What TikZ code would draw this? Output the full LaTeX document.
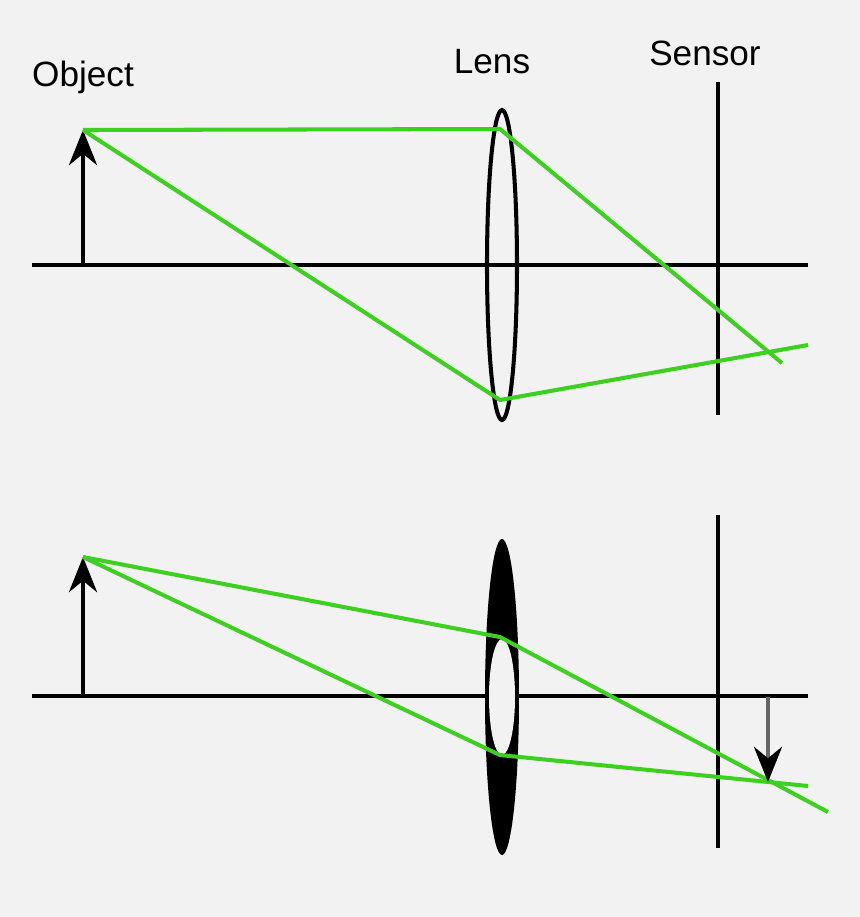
\documentclass[tikz,border=0pt]{standalone}
\usepackage{fontspec}
\setmainfont{Liberation Sans}
\usetikzlibrary{arrows.meta}
\definecolor{raygreen}{RGB}{62,208,32}
\definecolor{bggray}{RGB}{242,242,242}
\begin{document}
\begin{tikzpicture}[
    x=0.01cm, y=-0.01cm,
    axis/.style={line width=1.15pt, black},
    ray/.style={line width=1.15pt, raygreen},
    objarrow/.style={line width=1.15pt, -{Stealth[length=10pt,width=8pt]}},
    label/.style={font=\fontsize{10}{12}\selectfont, inner sep=0pt}
]
\fill[bggray] (0,0) rectangle (860,917);

% top panel
\coordinate (ta) at (32,265);
\coordinate (tb) at (808,265);
\draw[axis] (ta) -- (tb);
\coordinate (tobase) at (83,265);
\coordinate (totip) at (83,130);
\draw[objarrow] (tobase) -- (totip);
\draw[axis] (502,265) ellipse [x radius=15, y radius=155];
\coordinate (tstop) at (718,82);
\coordinate (tsbot) at (718,415);
\draw[axis] (tstop) -- (tsbot);
\node[label] (object) at (83,77) {Object};
\node[label] (lens) at (492,62) {Lens};
\node[label] (sensor) at (705,53) {Sensor};
\coordinate (tl1) at (500,129);
\coordinate (tl2) at (500,400);
\coordinate (te1) at (782,363);
\coordinate (te2) at (808,345);
\draw[ray] (totip) -- (tl1) -- (te1);
\draw[ray] (totip) -- (tl2) -- (te2);

% bottom panel
\coordinate (ba) at (32,696);
\coordinate (bb) at (808,696);
\draw[axis] (ba) -- (bb);
\coordinate (bobase) at (83,696);
\coordinate (botip) at (83,557);
\draw[objarrow] (bobase) -- (botip);
\fill[black] (502,697) ellipse [x radius=17, y radius=158];
\fill[bggray] (502,697) ellipse [x radius=13, y radius=58];
\coordinate (bstop) at (718,515);
\coordinate (bsbot) at (718,848);
\draw[axis] (bstop) -- (bsbot);
\coordinate (bl1) at (500,637);
\coordinate (bl2) at (500,755);
\coordinate (be1) at (828,812);
\coordinate (be2) at (808,786);
\draw[ray] (botip) -- (bl1) -- (be1);
\draw[ray] (botip) -- (bl2) -- (be2);
\coordinate (ibase) at (768,697);
\coordinate (itip) at (768,782);
\draw[line width=1.15pt, gray!80!black, -{Stealth[length=10pt,width=8pt,fill=black,color=black]}] (ibase) -- (itip);
\end{tikzpicture}
\end{document}
